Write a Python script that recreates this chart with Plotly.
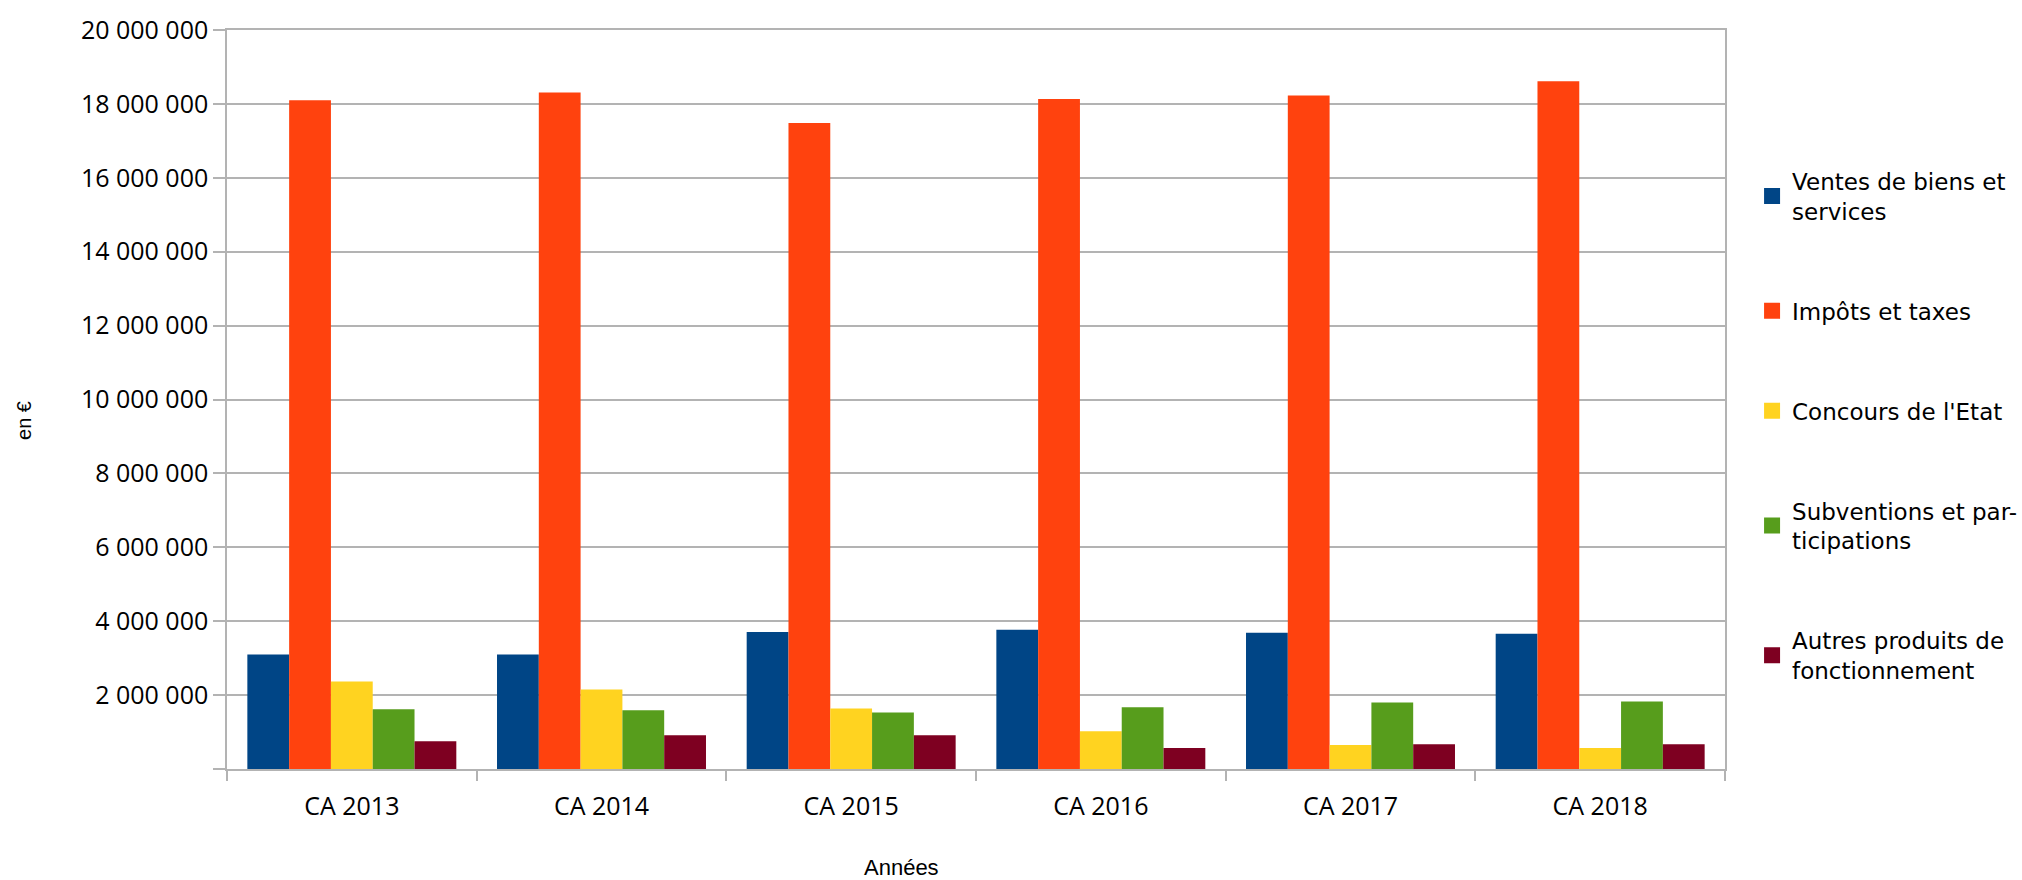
import plotly.graph_objects as go

categories = ["CA 2013", "CA 2014", "CA 2015", "CA 2016", "CA 2017", "CA 2018"]
ventes = [3100000, 3100000, 3710000, 3770000, 3690000, 3660000]
impots = [18100000, 18310000, 17480000, 18130000, 18230000, 18610000]
concours = [2370000, 2150000, 1640000, 1020000, 650000, 570000]
subventions = [1620000, 1590000, 1530000, 1670000, 1800000, 1830000]
autres = [750000, 915000, 915000, 565000, 673000, 673000]

series_names = [
    "Ventes de biens et<br>services",
    "Impôts et taxes",
    "Concours de l'Etat",
    "Subventions et par-<br>ticipations",
    "Autres produits de<br>fonctionnement",
]
series_values = [ventes, impots, concours, subventions, autres]
colors = ["#004586", "#ff420e", "#ffd320", "#579d1c", "#7e0021"]

tick_vals = [0, 2000000, 4000000, 6000000, 8000000, 10000000, 12000000,
             14000000, 16000000, 18000000, 20000000]
tick_text = ["", "2 000 000", "4 000 000", "6 000 000", "8 000 000", "10 000 000",
             "12 000 000", "14 000 000", "16 000 000", "18 000 000", "20 000 000"]

fig = go.Figure()
for i, (name, vals, col) in enumerate(zip(series_names, series_values, colors)):
    fig.add_trace(go.Bar(
        x=categories, y=vals, name=name, marker=dict(color=col, line=dict(width=0)),
        legendgroup=str(i), showlegend=False,
    ))
for i, (name, col) in enumerate(zip(series_names, colors)):
    fig.add_trace(go.Scatter(
        x=[None], y=[None], mode="markers", name=name,
        marker=dict(symbol="square", size=16, color=col, line=dict(width=0)),
        legendgroup=str(i), showlegend=True, hoverinfo="skip",
    ))

fig.update_layout(
    width=2022, height=880,
    margin=dict(l=227, r=297, t=26, b=111),
    paper_bgcolor="white", plot_bgcolor="white",
    barmode="group", bargap=0.163, bargroupgap=0,
    showlegend=True,
    legend=dict(
        xref="container", yref="container",
        x=0.8665, y=0.8187, xanchor="left", yanchor="top",
        font=dict(family="DejaVu Sans", size=23, color="#000000"),
        tracegroupgap=67, itemwidth=30, traceorder="grouped",
        bgcolor="rgba(0,0,0,0)", maxheight=860,
    ),
    font=dict(family="Open Sans", color="#000000"),
)

fig.update_xaxes(
    type="category", tickson="boundaries", ticks="outside", ticklen=10,
    tickcolor="#b3b3b3", tickwidth=1.5, ticklabelstandoff=14,
    showline=True, linecolor="#b3b3b3", linewidth=1.5, mirror=True,
    showgrid=False, tickfont=dict(family="Open Sans", size=25, color="#000000"),
)
fig.update_yaxes(
    range=[0, 20000000], tickvals=tick_vals, ticktext=tick_text,
    ticks="outside", ticklen=12, tickcolor="#b3b3b3", tickwidth=1.5,
    showline=True, linecolor="#b3b3b3", linewidth=1.5, mirror=True,
    showgrid=True, gridcolor="#b3b3b3", gridwidth=1.5, zeroline=False,
    ticklabeloverflow="allow",
    tickfont=dict(family="Open Sans", size=25, color="#000000"),
)

fig.add_annotation(
    text="Années", xref="paper", yref="paper", x=0.4506, y=-0.1332,
    xanchor="center", yanchor="middle", showarrow=False,
    font=dict(family="Liberation Sans", size=22, color="#000000"),
)
fig.add_annotation(
    text="en €", xref="paper", yref="paper", x=-0.1355, y=0.471,
    xanchor="center", yanchor="middle", showarrow=False, textangle=-90,
    font=dict(family="Liberation Sans", size=20, color="#000000"),
)

fig.write_html(
    "out.html",
    config={"displayModeBar": False},
    post_script="document.body.style.margin='0px'; document.body.style.overflow='hidden';",
)
